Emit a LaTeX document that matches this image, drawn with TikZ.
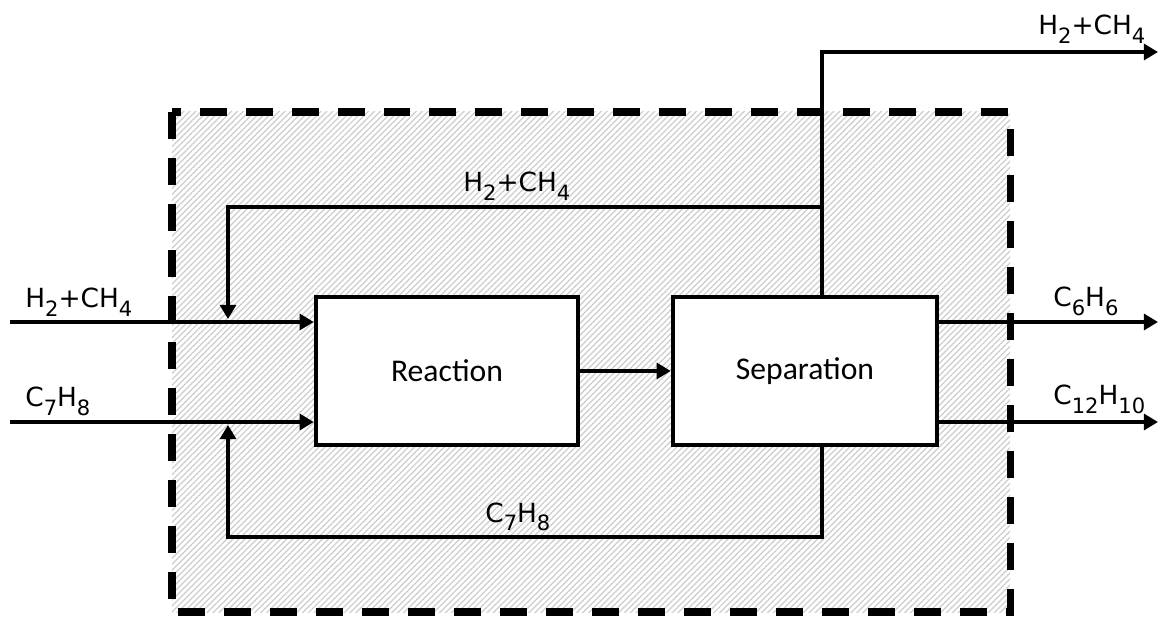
\documentclass[tikz,border=0pt]{standalone}
\usepackage{fontspec}
\setmainfont{DejaVu Sans}
\newfontfamily\boxfont{Carlito}
\usetikzlibrary{arrows.meta,patterns.meta}
\newcommand{\chemsub}[1]{\raisebox{-0.32em}{\fontsize{12}{12}\selectfont #1}}
\begin{document}
\begin{tikzpicture}[x=0.02cm,y=-0.02cm,
	flow/.style={line width=2.6pt,-{Triangle[length=8pt,width=9pt]}},
	unit/.style={draw,line width=2.6pt,fill=white,minimum height=2.96cm,font=\boxfont\fontsize{18}{20}\selectfont},
	stream/.style={inner sep=0pt,font=\fontsize{15}{17}\selectfont}]
	\useasboundingbox (0,0) rectangle (1169,617);
	\fill[pattern={Lines[angle=45,distance=2.4pt,line width=0.7pt]},pattern color=gray!40] (172,112) rectangle (1010,612);
	\draw[line width=4pt,dash pattern=on 0.54cm off 0.38cm] (172,112) rectangle (1010,612);
	\node[unit,minimum width=5.24cm] (reaction) at (447,371) {Reaction};
	\node[unit,minimum width=5.28cm] (separation) at (805,371) {Separation};
	\coordinate (inH) at (10,322);
	\coordinate (inC) at (10,422);
	\coordinate (outB) at (1158,322);
	\coordinate (outD) at (1158,422);
	\coordinate (vent) at (1158,52);
	\coordinate (split) at (822,207);
	\coordinate (ret) at (228,537);
	\coordinate (mixH) at (228,319);
	\coordinate (mixC) at (228,425);
	\draw[flow] (inH) -- (inH -| reaction.west);
	\draw[flow] (inC) -- (inC -| reaction.west);
	\draw[flow] (reaction) -- (separation);
	\draw[flow] (separation.east |- outB) -- (outB);
	\draw[flow] (separation.east |- outD) -- (outD);
	\draw[flow] (separation.north -| split) |- (vent);
	\draw[flow] (split) -| (mixH);
	\draw[flow] (separation.south -| split) |- (ret) -- (mixC);
	\node[stream,anchor=base west] (lblinH) at (25,308) {H\chemsub{2}+CH\chemsub{4}};
	\node[stream,anchor=base west] (lblinC) at (25,407) {C\chemsub{7}H\chemsub{8}};
	\node[stream,anchor=base west] (lblvent) at (1038,35) {H\chemsub{2}+CH\chemsub{4}};
	\node[stream,anchor=base west] (lblB) at (1053,307) {C\chemsub{6}H\chemsub{6}};
	\node[stream,anchor=base west] (lblD) at (1053,405) {C\chemsub{12}H\chemsub{10}};
	\node[stream,anchor=base west] (lblrecH) at (463,192) {H\chemsub{2}+CH\chemsub{4}};
	\node[stream,anchor=base west] (lblrecC) at (485,522) {C\chemsub{7}H\chemsub{8}};
\end{tikzpicture}
\end{document}
